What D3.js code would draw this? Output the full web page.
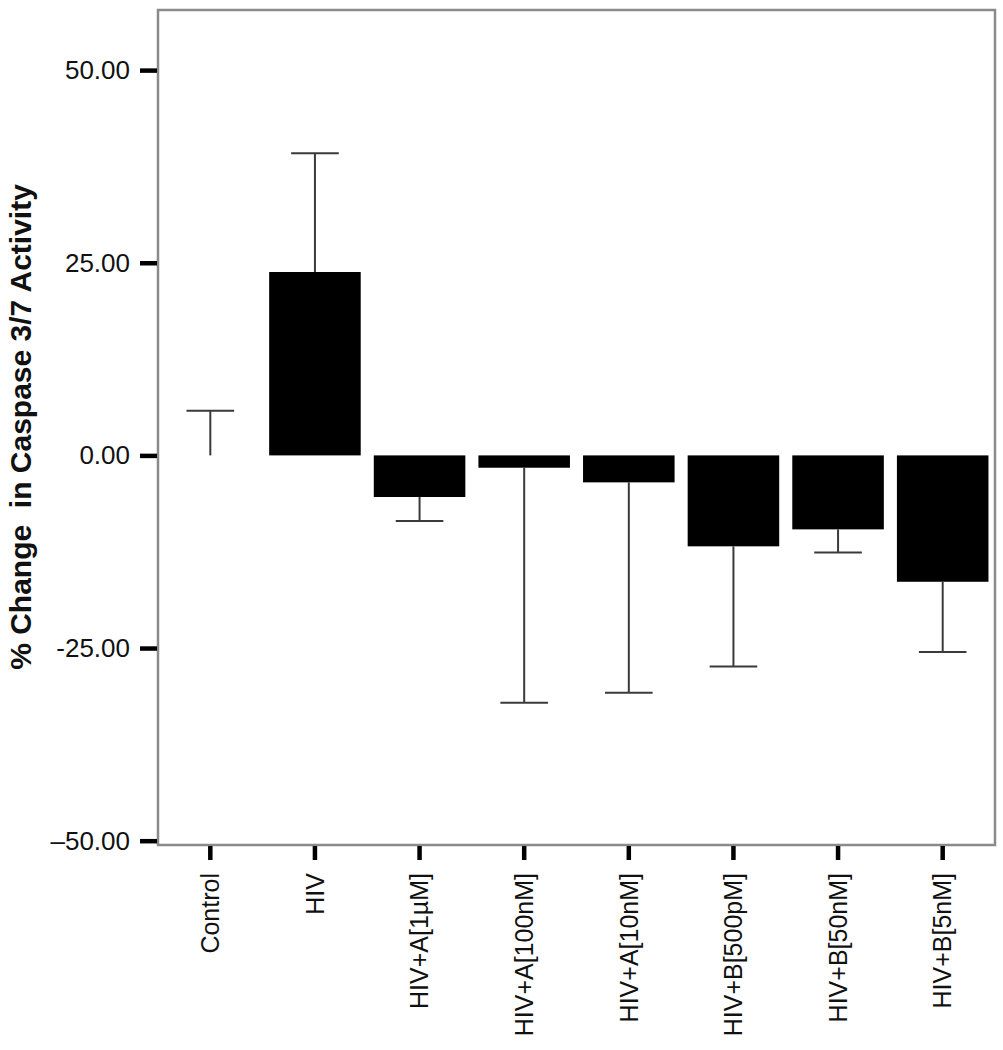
<!DOCTYPE html>
<html>
<head>
<meta charset="utf-8">
<script src="https://cdn.jsdelivr.net/npm/d3@7"></script>
<style>
  html, body { margin: 0; padding: 0; background: #fff; }
  svg { display: block; font-family: "Liberation Sans", Arial, sans-serif; }
</style>
</head>
<body>
<svg id="chart" width="1003" height="1050"></svg>
<script>
const categories = ["Control", "HIV", "HIV+A[1\u00b5M]", "HIV+A[100nM]", "HIV+A[10nM]", "HIV+B[500pM]", "HIV+B[50nM]", "HIV+B[5nM]"];
const means = [0, 23.8, -5.4, -1.6, -3.5, -11.8, -9.6, -16.4];
const errorEnds = [5.8, 39.2, -8.5, -32.1, -30.8, -27.4, -12.6, -25.5];
const yTickValues = [-50, -25, 0, 25, 50];
const yTickLabels = ["\u201350.00", "-25.00", "0.00", "25.00", "50.00"];
const yTitle = "% Change  in Caspase 3/7 Activity";

const svg = d3.select("#chart");
const mLeft = 158, mRight = 995, mTop = 10, mBottom = 845;

const x = d3.scaleBand().domain(categories).range([mLeft, mRight])
  .paddingInner(0.125).paddingOuter(0.0625);
const y = d3.scaleLinear().domain([-50.56, 57.8]).range([mBottom, mTop]);

const data = categories.map((c, i) => ({ c, v: means[i], e: errorEnds[i] }));

// bars
svg.append("g").selectAll("rect").data(data).join("rect")
  .attr("x", d => x(d.c))
  .attr("width", x.bandwidth())
  .attr("y", d => Math.min(y(d.v), y(0)))
  .attr("height", d => Math.abs(y(d.v) - y(0)))
  .attr("fill", "#000");

// error bars
const capW = x.bandwidth() * 0.52;
const eg = svg.append("g").attr("stroke", "#3a3a3a").attr("stroke-width", 2);
eg.selectAll("line.stem").data(data).join("line").attr("class", "stem")
  .attr("x1", d => x(d.c) + x.bandwidth() / 2)
  .attr("x2", d => x(d.c) + x.bandwidth() / 2)
  .attr("y1", d => y(d.v))
  .attr("y2", d => y(d.e));
eg.selectAll("line.cap").data(data).join("line").attr("class", "cap")
  .attr("x1", d => x(d.c) + x.bandwidth() / 2 - capW / 2)
  .attr("x2", d => x(d.c) + x.bandwidth() / 2 + capW / 2)
  .attr("y1", d => y(d.e))
  .attr("y2", d => y(d.e));

// frame
svg.append("rect")
  .attr("x", mLeft).attr("y", mTop)
  .attr("width", mRight - mLeft).attr("height", mBottom - mTop)
  .attr("fill", "none").attr("stroke", "#8a8a8a").attr("stroke-width", 2.5);

// y axis
const yAxis = d3.axisLeft(y).tickValues(yTickValues)
  .tickFormat((d, i) => yTickLabels[i]).tickSize(17).tickPadding(10);
const yg = svg.append("g").attr("transform", `translate(${mLeft - 1},0)`).call(yAxis);
yg.select(".domain").remove();
yg.selectAll(".tick line").attr("stroke", "#000").attr("stroke-width", 4.5);
yg.selectAll(".tick text").attr("font-size", 26).attr("fill", "#111")
  .attr("font-family", "Liberation Sans, Arial, sans-serif");

// x axis
const xAxis = d3.axisBottom(x).tickSize(14).tickPadding(12);
const xg = svg.append("g").attr("transform", `translate(0,${mBottom + 1})`).call(xAxis);
xg.select(".domain").remove();
xg.selectAll(".tick line").attr("stroke", "#000").attr("stroke-width", 4.5);
xg.selectAll(".tick text")
  .attr("font-size", 25).attr("fill", "#111")
  .attr("font-family", "Liberation Sans, Arial, sans-serif")
  .attr("text-anchor", "end")
  .attr("dy", "0.35em")
  .attr("transform", "rotate(-90)")
  .attr("x", -27)
  .attr("y", 0);

// y title
svg.append("text")
  .attr("transform", `translate(31,427) rotate(-90)`)
  .attr("text-anchor", "middle")
  .attr("font-size", 30).attr("font-weight", "bold").attr("fill", "#111")
  .attr("xml:space", "preserve")
  .style("white-space", "pre")
  .text(yTitle);
</script>
</body>
</html>
